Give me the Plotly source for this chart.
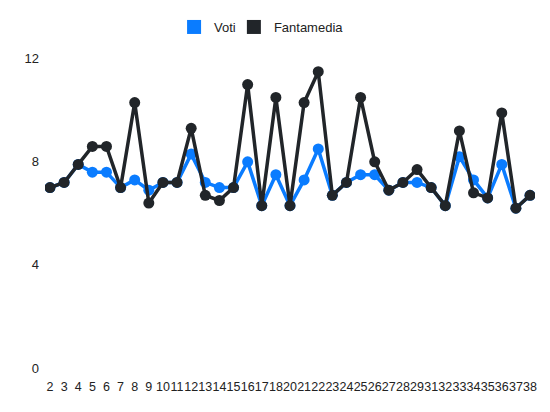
"""Andamento giornata per giornata: voto e fantamedia."""

import plotly.graph_objects as go

GIORNATE = [
    "2", "3", "4", "5", "6", "7", "8", "9", "10", "11", "12", "13", "14", "15",
    "16", "17", "18", "20", "21", "22", "23", "24", "25", "26", "27", "28",
    "29", "31", "32", "33", "34", "35", "36", "37", "38",
]
VOTI = [
    7.0, 7.2, 7.9, 7.6, 7.6, 7.0, 7.3, 6.9, 7.2, 7.2, 8.3, 7.2, 7.0, 7.0,
    8.0, 6.3, 7.5, 6.3, 7.3, 8.5, 6.7, 7.2, 7.5, 7.5, 6.9, 7.2,
    7.2, 7.0, 6.3, 8.2, 7.3, 6.6, 7.9, 6.2, 6.7,
]
FANTAMEDIA = [
    7.0, 7.2, 7.9, 8.6, 8.6, 7.0, 10.3, 6.4, 7.2, 7.2, 9.3, 6.7, 6.5, 7.0,
    11.0, 6.3, 10.5, 6.3, 10.3, 11.5, 6.7, 7.2, 10.5, 8.0, 6.9, 7.2,
    7.7, 7.0, 6.3, 9.2, 6.8, 6.6, 9.9, 6.2, 6.7,
]
Y_TICKS = [0, 4, 8, 12]

BLUE = "#0a7cff"
DARK = "#212529"

fig = go.Figure()
series = [("Voti", VOTI, BLUE, "legend"), ("Fantamedia", FANTAMEDIA, DARK, "legend2")]
for name, vals, col, leg in series:
    fig.add_trace(go.Scatter(
        x=GIORNATE, y=vals, name=name, mode="lines+markers",
        line=dict(color=col, width=3.5), marker=dict(color=col, size=11),
        showlegend=False,
    ))
    # voce di legenda a quadratino (una legenda per voce, per controllare lo spazio)
    fig.add_trace(go.Scatter(
        x=[None], y=[None], name=name, mode="markers", legend=leg,
        marker=dict(color=col, size=14, symbol="square"),
    ))

leg_style = dict(orientation="h", xref="container", xanchor="left",
                 yref="container", y=0.952, yanchor="middle",
                 font=dict(size=13), itemwidth=30, bgcolor="rgba(0,0,0,0)")

# la pagina ha 8px di margine sul body: figura 534x396 che riempie la finestra
fig.update_layout(
    width=534, height=396,
    paper_bgcolor="white", plot_bgcolor="white",
    font=dict(family="Liberation Sans, Arial, sans-serif", size=13, color="#222"),
    margin=dict(l=37, r=7, t=25, b=36, autoexpand=False),
    showlegend=True,
    legend=dict(x=0.311, **leg_style),
    legend2=dict(x=0.423, **leg_style),
    xaxis=dict(type="category", range=[-0.354, 34.354], tickangle=0, dtick=1,
               showgrid=False, zeroline=False, showline=False,
               tickfont=dict(size=12.5), ticks="", ticklabelstandoff=9),
    yaxis=dict(range=[0, 13], tickvals=Y_TICKS, showgrid=False, zeroline=False,
               showline=False, ticks="", tickfont=dict(size=13),
               ticklabelstandoff=5),
)

fig.write_html("out.html")
